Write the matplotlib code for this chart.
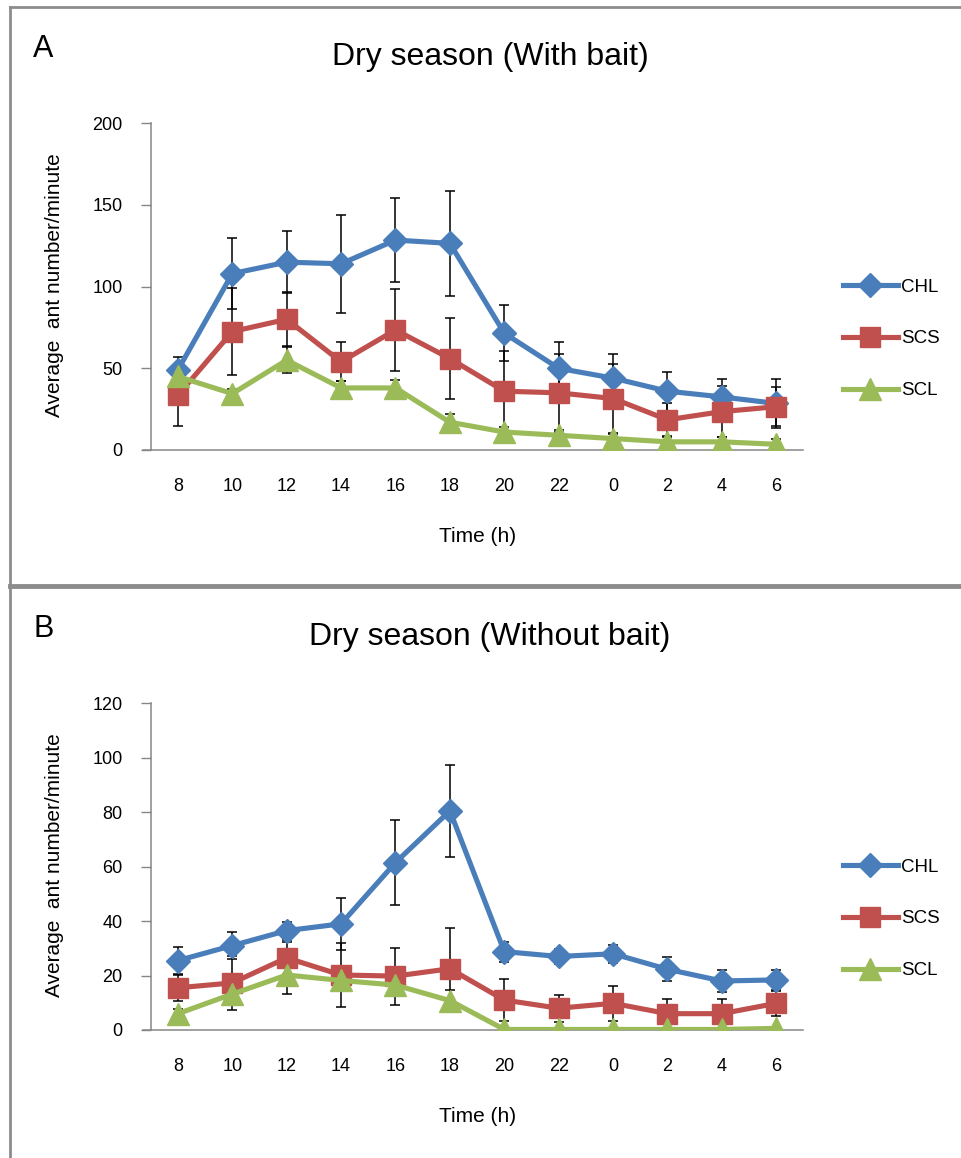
import matplotlib
matplotlib.use("Agg")
import matplotlib.pyplot as plt
from matplotlib.lines import Line2D
import numpy as np

plt.rcParams['font.family'] = ['Liberation Sans', 'DejaVu Sans']

# sampling times (h), dry season
hours = ['8', '10', '12', '14', '16', '18', '20', '22', '0', '2', '4', '6']

# with bait
chl_bait = [49, 108, 115, 114, 128.5, 126.5, 71.5, 50, 44, 36, 32.5, 28.5]
chl_bait_err = [8, 21.5, 19, 30, 25.5, 32, 17, 16, 14.5, 12, 11, 15]
scs_bait = [33.5, 72.5, 80, 54, 73.5, 56, 36, 35, 31.5, 18.5, 23.5, 26.5]
scs_bait_err = [19, 26.5, 16.5, 12, 25, 25, 24.5, 24, 21, 10, 15.5, 12]
scl_bait = [45, 34.5, 55, 38, 38, 17, 11, 9, 7, 5, 5, 3.5]
scl_bait_err = [3, 3, 8, 4, 5, 5, 3, 3, 3, 3, 3, 3]

# without bait
chl_nobait = [25.5, 31, 36.5, 39, 61.5, 80.5, 28.8, 27, 28, 22.3, 18, 18.4]
chl_nobait_err = [5, 5, 3.3, 9.5, 15.6, 16.8, 3.7, 2.7, 3.4, 4.4, 4, 3.6]
scs_nobait = [15.5, 17.3, 26.5, 20.2, 19.8, 22.5, 11, 8, 9.8, 6, 6, 9.8]
scs_nobait_err = [4.7, 9.8, 6, 11.6, 10.5, 14.8, 7.6, 5, 6.5, 5.5, 5.5, 4.5]
scl_nobait = [6, 13.2, 20.2, 18.2, 16.5, 10.8, 0.2, 0.2, 0.2, 0.2, 0.2, 0.6]
scl_nobait_err = [1.6, 3, 7, 3, 3, 4, 0.3, 0.3, 0.3, 0.3, 0.3, 0.5]

sites = ['CHL', 'SCS', 'SCL']
colors = {'CHL': '#4a7ebb', 'SCS': '#c0504d', 'SCL': '#9bbb59'}
markers = {'CHL': ('D', 12), 'SCS': ('s', 15), 'SCL': ('^', 16)}

W, H = 962, 1158
fig = plt.figure(figsize=(W / 100, H / 100), dpi=100)


def fx(px):
    return px / W


def fy(py):
    return 1 - py / H


def panel(top, letter, title, data, ymax, ystep):
    ax = fig.add_axes([fx(150.7), fy(top + 326.7), 652.8 / W, 326.7 / H])
    x = np.arange(len(hours))
    for site in sites:
        vals, err = data[site]
        ax.errorbar(x, vals, yerr=err, fmt='none', ecolor='black',
                    elinewidth=1.1, capsize=3.6, capthick=1.1, zorder=2)
    for i, site in enumerate(sites):
        vals, err = data[site]
        m, ms = markers[site]
        ax.plot(x, vals, color=colors[site], lw=3.7, marker=m, ms=ms,
                mec=colors[site], label=site, zorder=3 + i)
    ax.set_xlim(-0.5, len(hours) - 0.5)
    ax.set_ylim(0, ymax)
    ax.set_yticks(np.arange(0, ymax + 1, ystep))
    ax.set_xticks(x)
    ax.set_xticklabels(hours)
    ax.tick_params(axis='x', length=0, pad=20, labelsize=13)
    ax.tick_params(axis='y', length=7.2, width=1, color='#868686',
                   pad=13, labelsize=13)
    for s in ['top', 'right']:
        ax.spines[s].set_visible(False)
    for s in ['left', 'bottom']:
        ax.spines[s].set_color('#868686')
        ax.spines[s].set_linewidth(1.1)
    ax.spines['bottom'].set_bounds(-0.65, len(hours) - 0.5)
    ax.set_ylabel('Average  ant number/minute', fontsize=15)
    ax.yaxis.set_label_coords(-0.133, 0.505)
    ax.set_xlabel('Time (h)', fontsize=15)
    ax.xaxis.set_label_coords(0.5, -0.236)
    ax.legend(loc='center left', bbox_to_anchor=(1.06, 0.34), frameon=False,
              fontsize=13.5, handlelength=2.95, handletextpad=0.17,
              labelspacing=1.85, borderpad=0, borderaxespad=0)
    fig.text(fx(490), fy(top - 66), title, fontsize=23, ha='center', va='center')
    fig.text(fx(33), fy(top - 74), letter, fontsize=22, ha='left', va='center')
    return ax


panel(123.3, 'A', 'Dry season (With bait)',
      {'CHL': (chl_bait, chl_bait_err), 'SCS': (scs_bait, scs_bait_err),
       'SCL': (scl_bait, scl_bait_err)}, 200, 50)
panel(703.3, 'B', 'Dry season (Without bait)',
      {'CHL': (chl_nobait, chl_nobait_err), 'SCS': (scs_nobait, scs_nobait_err),
       'SCL': (scl_nobait, scl_nobait_err)}, 120, 20)

# panel frames
frame = '#8c8c8c'
fig.add_artist(Line2D([fx(10), 1], [fy(7), fy(7)], color=frame, lw=2))
fig.add_artist(Line2D([fx(10), fx(10)], [fy(7), 0], color=frame, lw=2))
fig.add_artist(Line2D([fx(10), 1], [fy(585.7), fy(585.7)], color=frame, lw=3.5))

fig.savefig('out.png', dpi=100)
